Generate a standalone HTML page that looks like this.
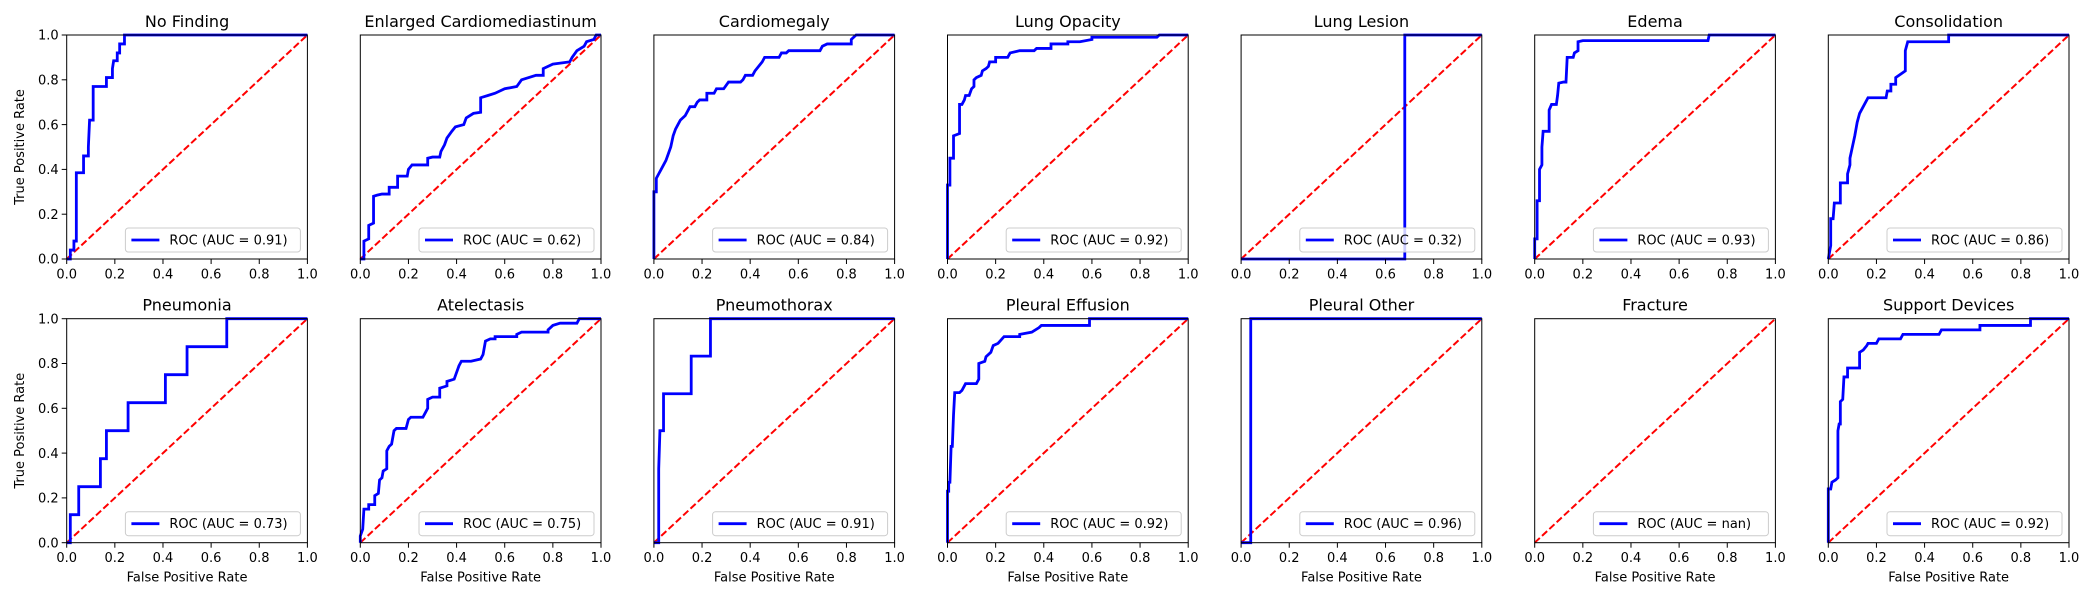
<!DOCTYPE html>
<html><head><meta charset="utf-8"><style>
body{margin:0;background:#fff}
svg{display:block;font-family:"DejaVu Sans","Liberation Sans",sans-serif}
</style></head><body>
<svg id="fig" width="2100" height="600" viewBox="0 0 2100 600"></svg>
<script>
const titles=["No Finding","Enlarged Cardiomediastinum","Cardiomegaly","Lung Opacity","Lung Lesion","Edema","Consolidation","Pneumonia","Atelectasis","Pneumothorax","Pleural Effusion","Pleural Other","Fracture","Support Devices"];
const aucLabels=["0.91","0.62","0.84","0.92","0.32","0.93","0.86","0.73","0.75","0.91","0.92","0.96","nan","0.92"];
const tickValues=[0,0.2,0.4,0.6,0.8,1.0];
const tickLabels=["0.0","0.2","0.4","0.6","0.8","1.0"];
const fpr0=[0,0.015,0.015,0.03,0.03,0.04,0.04,0.07,0.07,0.09,0.09,0.095,0.11,0.11,0.165,0.165,0.19,0.19,0.195,0.21,0.21,0.22,0.22,0.24,0.24,1];
const tpr0=[0,0,0.04,0.04,0.08,0.08,0.385,0.385,0.46,0.46,0.5,0.62,0.62,0.77,0.77,0.81,0.81,0.85,0.885,0.885,0.92,0.92,0.96,0.96,1,1];
const fpr1=[0,0.015,0.015,0.035,0.035,0.055,0.055,0.07,0.09,0.12,0.12,0.155,0.155,0.195,0.2,0.215,0.28,0.28,0.3,0.33,0.335,0.35,0.36,0.38,0.395,0.43,0.44,0.47,0.5,0.5,0.53,0.56,0.6,0.65,0.67,0.73,0.76,0.76,0.8,0.87,0.88,0.9,0.93,0.94,0.97,0.98,1];
const tpr1=[0,0,0.08,0.09,0.15,0.16,0.28,0.285,0.29,0.29,0.32,0.32,0.37,0.37,0.4,0.42,0.42,0.45,0.455,0.455,0.48,0.51,0.54,0.57,0.59,0.6,0.63,0.65,0.655,0.72,0.73,0.74,0.76,0.77,0.8,0.82,0.82,0.85,0.87,0.88,0.9,0.93,0.95,0.97,0.98,1,1];
const fpr2=[0,0,0.01,0.01,0.02,0.03,0.04,0.05,0.06,0.07,0.08,0.09,0.1,0.11,0.12,0.13,0.14,0.15,0.17,0.18,0.19,0.22,0.22,0.25,0.26,0.29,0.31,0.36,0.37,0.38,0.41,0.42,0.45,0.46,0.52,0.53,0.55,0.56,0.69,0.7,0.72,0.82,0.82,0.84,1];
const tpr2=[0,0.3,0.3,0.36,0.38,0.4,0.42,0.44,0.47,0.5,0.55,0.58,0.6,0.62,0.63,0.64,0.66,0.68,0.68,0.7,0.71,0.71,0.74,0.74,0.76,0.76,0.79,0.79,0.8,0.82,0.82,0.84,0.88,0.9,0.9,0.92,0.92,0.93,0.93,0.95,0.96,0.96,0.98,1,1];
const fpr3=[0,0,0.01,0.01,0.025,0.025,0.05,0.05,0.06,0.07,0.075,0.09,0.1,0.11,0.11,0.12,0.14,0.145,0.16,0.17,0.175,0.2,0.2,0.25,0.26,0.3,0.36,0.37,0.43,0.43,0.5,0.5,0.55,0.6,0.6,0.87,0.88,1];
const tpr3=[0,0.33,0.33,0.45,0.45,0.55,0.56,0.69,0.69,0.71,0.73,0.73,0.76,0.77,0.8,0.81,0.82,0.84,0.85,0.86,0.88,0.88,0.9,0.9,0.92,0.93,0.93,0.94,0.94,0.96,0.96,0.97,0.97,0.98,0.99,0.99,1,1];
const fpr4=[0,0.68,0.68,1];
const tpr4=[0,0,1,1];
const fpr5=[0,0,0.01,0.01,0.02,0.02,0.03,0.03,0.035,0.06,0.06,0.07,0.09,0.095,0.1,0.12,0.13,0.135,0.16,0.165,0.18,0.18,0.2,0.72,0.725,1];
const tpr5=[0,0.09,0.09,0.26,0.26,0.4,0.42,0.5,0.57,0.57,0.665,0.69,0.69,0.73,0.785,0.79,0.79,0.9,0.9,0.92,0.93,0.97,0.975,0.975,1,1];
const fpr6=[0,0.01,0.01,0.02,0.025,0.05,0.05,0.08,0.08,0.09,0.09,0.1,0.11,0.12,0.13,0.14,0.15,0.165,0.24,0.245,0.26,0.26,0.28,0.28,0.32,0.32,0.33,0.5,0.5,1];
const tpr6=[0,0.06,0.18,0.18,0.25,0.25,0.34,0.34,0.38,0.42,0.45,0.5,0.55,0.61,0.65,0.67,0.69,0.72,0.72,0.75,0.75,0.78,0.78,0.81,0.84,0.93,0.97,0.97,1,1];
const fpr7=[0,0.015,0.015,0.05,0.05,0.14,0.14,0.165,0.165,0.255,0.255,0.41,0.41,0.5,0.5,0.665,0.665,1];
const tpr7=[0,0,0.125,0.125,0.25,0.25,0.375,0.375,0.5,0.5,0.625,0.625,0.75,0.75,0.875,0.875,1,1];
const fpr8=[0,0,0.01,0.015,0.035,0.035,0.06,0.06,0.075,0.08,0.09,0.095,0.11,0.11,0.12,0.13,0.14,0.15,0.19,0.2,0.21,0.26,0.27,0.28,0.28,0.3,0.33,0.33,0.36,0.36,0.39,0.4,0.41,0.42,0.46,0.5,0.51,0.52,0.54,0.56,0.56,0.65,0.65,0.67,0.78,0.78,0.8,0.83,0.9,0.91,1];
const tpr8=[0,0.03,0.06,0.15,0.15,0.17,0.17,0.21,0.22,0.28,0.29,0.32,0.33,0.41,0.43,0.44,0.5,0.51,0.51,0.55,0.56,0.56,0.58,0.6,0.64,0.65,0.65,0.69,0.7,0.72,0.73,0.76,0.79,0.81,0.81,0.82,0.84,0.9,0.91,0.91,0.92,0.92,0.93,0.94,0.94,0.95,0.97,0.98,0.98,1,1];
const fpr9=[0,0.02,0.02,0.025,0.04,0.04,0.155,0.155,0.235,0.235,1];
const tpr9=[0,0,0.33,0.5,0.5,0.665,0.665,0.833,0.833,1,1];
const fpr10=[0,0,0.005,0.005,0.01,0.015,0.02,0.025,0.03,0.05,0.06,0.07,0.075,0.12,0.13,0.13,0.155,0.16,0.18,0.19,0.21,0.235,0.3,0.3,0.35,0.38,0.39,0.59,0.59,1];
const tpr10=[0,0.23,0.23,0.27,0.27,0.43,0.43,0.57,0.67,0.67,0.68,0.7,0.71,0.71,0.73,0.8,0.81,0.83,0.85,0.88,0.89,0.92,0.92,0.93,0.94,0.96,0.97,0.97,1,1];
const fpr11=[0,0.04,0.04,1];
const tpr11=[0,0,1,1];
const fpr12=[];
const tpr12=[];
const fpr13=[0,0,0.01,0.015,0.03,0.04,0.04,0.045,0.05,0.05,0.06,0.065,0.08,0.08,0.13,0.13,0.145,0.16,0.165,0.2,0.21,0.3,0.31,0.46,0.47,0.63,0.63,0.84,0.84,1];
const tpr13=[0,0.24,0.24,0.27,0.28,0.29,0.5,0.53,0.53,0.63,0.64,0.74,0.74,0.78,0.78,0.85,0.86,0.88,0.89,0.89,0.91,0.91,0.93,0.93,0.95,0.95,0.97,0.97,1,1];
const fprs=[fpr0,fpr1,fpr2,fpr3,fpr4,fpr5,fpr6,fpr7,fpr8,fpr9,fpr10,fpr11,fpr12,fpr13];
const tprs=[tpr0,tpr1,tpr2,tpr3,tpr4,tpr5,tpr6,tpr7,tpr8,tpr9,tpr10,tpr11,tpr12,tpr13];

const NS="http://www.w3.org/2000/svg";
const svg=document.getElementById('fig');
function mk(tag,attrs,parent){const e=document.createElementNS(NS,tag);for(const k in attrs)e.setAttribute(k,attrs[k]);(parent||svg).appendChild(e);return e;}
const W=240.7,H=224,L0=66.7,DX=293.6,TOPS=[35,318.7];
for(let i=0;i<14;i++){
  const r=Math.floor(i/7),c=i%7;
  const left=L0+c*DX,top=TOPS[r],bottom=top+H,right=left+W;
  const sx=v=>left+v*W, sy=v=>bottom-v*H;
  const g=mk('g',{});
  
  
  const t=mk('text',{x:left+W/2,y:top-8,'text-anchor':'middle','font-size':16,fill:'#000'},g);
  t.textContent=titles[i];
  
  
  const d=mk('line',{x1:sx(0),y1:sy(0),x2:sx(1),y2:sy(1),stroke:'#ff0000','stroke-width':2,'stroke-dasharray':'7,3'},g);
  
  
  const fx=fprs[i],ty=tprs[i];
  if(fx.length){
    const pts=fx.map((v,k)=>sx(v).toFixed(2)+','+sy(ty[k]).toFixed(2)).join(' ');
    const pl=mk('polyline',{points:pts,fill:'none',stroke:'#0000ff','stroke-width':2.8,'stroke-linejoin':'miter'},g);
    
    
  }
  const fr=mk('rect',{x:left,y:top,width:W,height:H,fill:'none',stroke:'#000','stroke-width':1},g);
  
  
  tickValues.forEach((v,k)=>{
    mk('line',{x1:sx(v),y1:bottom,x2:sx(v),y2:bottom+5,stroke:'#000','stroke-width':1},g);
    const tl=mk('text',{x:sx(v),y:bottom+19.5,'text-anchor':'middle','font-size':13,fill:'#000'},g);
    tl.textContent=tickLabels[k];
    
    
  });
  if(c===0){
    tickValues.forEach((v,k)=>{
      mk('line',{x1:left-5,y1:sy(v),x2:left,y2:sy(v),stroke:'#000','stroke-width':1},g);
      const tl=mk('text',{x:left-8,y:sy(v)+4.7,'text-anchor':'end','font-size':13,fill:'#000'},g);
      tl.textContent=tickLabels[k];
      
      
    });
    const yl=mk('text',{x:0,y:0,'text-anchor':'middle','font-size':13,fill:'#000',transform:`translate(24,${top+H/2}) rotate(-90)`},g);
    yl.textContent='True Positive Rate';
    
    
  }
  if(r===1){
    const xl=mk('text',{x:left+W/2,y:bottom+39,'text-anchor':'middle','font-size':13,fill:'#000'},g);
    xl.textContent='False Positive Rate';
    
    
  }
  const lg=mk('g',{},g);
  
  
  const lx=right-7-175,ly=bottom-7-24;
  mk('rect',{x:lx,y:ly,width:175,height:24,rx:3,fill:'#fff','fill-opacity':0.8,stroke:'#ccc','stroke-width':1},lg);
  mk('line',{x1:lx+6,y1:ly+12,x2:lx+34,y2:ly+12,stroke:'#0000ff','stroke-width':2.8},lg);
  const lt=mk('text',{x:lx+44,y:ly+16.5,'font-size':13,fill:'#000'},lg);
  lt.textContent='ROC (AUC = '+aucLabels[i]+')';
  
  
}
</script>
</body></html>
